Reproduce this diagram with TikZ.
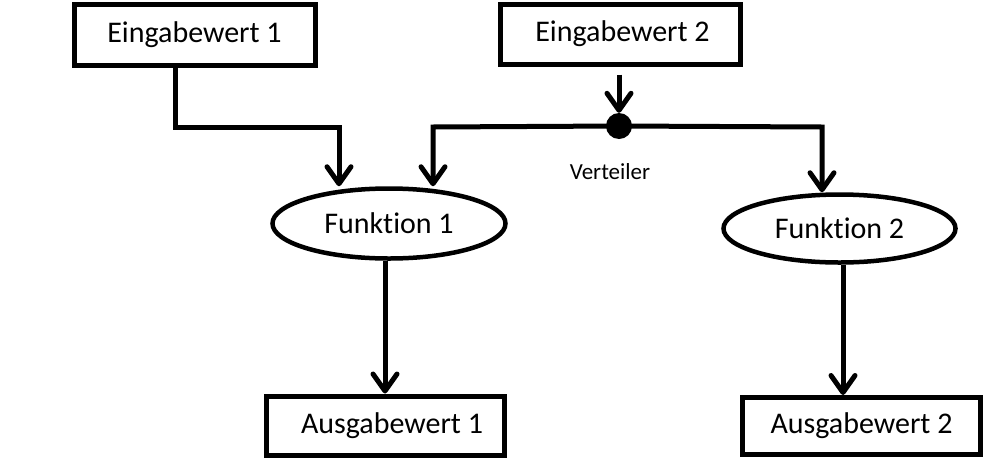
\documentclass[tikz,border=0pt]{standalone}
\usepackage{fontspec}
\setmainfont[Ligatures={NoCommon,NoRare,NoContextual}]{Carlito}
\usetikzlibrary{shapes.geometric,arrows.meta}
\begin{document}
\begin{tikzpicture}[x=1pt,y=-1pt,
  box/.style={draw,line width=5pt,rectangle,inner sep=0pt,font=\fontsize{30}{36}\selectfont},
  func/.style={draw,line width=4.5pt,ellipse,inner sep=0pt,font=\fontsize{30}{36}\selectfont},
  conn/.style={line width=5pt,line join=miter,-{Straight Barb[length=17pt,width=24pt,line join=round,line cap=round]}},
  dotst/.style={circle,fill=black,inner sep=0pt,minimum size=26pt}
]
\useasboundingbox (0,0) rectangle (1003,469);
\node[box,minimum width=241pt,minimum height=61pt] (e1) at (194.5,34.5) {Eingabewert 1};
\node[box,minimum width=240pt,minimum height=60pt] (e2) at (620,34) {\hspace*{5pt}Eingabewert 2};
\node[func,minimum width=233pt,minimum height=70pt] (f1) at (389,223.5) {Funk\kern0ptti\kern0pton 1};
\node[func,minimum width=232pt,minimum height=68pt] (f2) at (839.5,228.5) {Funk\kern0ptti\kern0pton 2};
\node[box,minimum width=238pt,minimum height=59pt] (a1) at (385,425.5) {\hspace*{14pt}Ausgabewert 1};
\node[box,minimum width=238pt,minimum height=57pt] (a2) at (861.5,426) {Ausgabewert 2};
\node[dotst] (v) at (619,126) {};
\node[font=\fontsize{23}{28}\selectfont] (vl) at (610,172) {Verteiler};
\coordinate (k1) at (339,127);
\coordinate (k2) at (433,127);
\coordinate (k3) at (822,127);
% Eingabewert 1 -> Funktion 1
\draw[conn] (e1.south -| 175,0) |- (k1) -- (f1.north -| k1);
% Eingabewert 2 -> Verteiler
\draw[conn,shorten <=8pt] (e2.south -| v) -- (v.north);
% Verteiler -> Funktion 1 / Funktion 2
\draw[conn] (v.center) -- (k2) -- (f1.north -| k2);
\draw[conn] (v.center) -- (k3) -- (f2.north -| k3);
% Funktionen -> Ausgabewerte
\draw[conn] (f1.south -| a1) -- (a1.north);
\draw[conn] (f2.south -| 843,0) -- (a2.north -| 843,0);
\end{tikzpicture}
\end{document}
